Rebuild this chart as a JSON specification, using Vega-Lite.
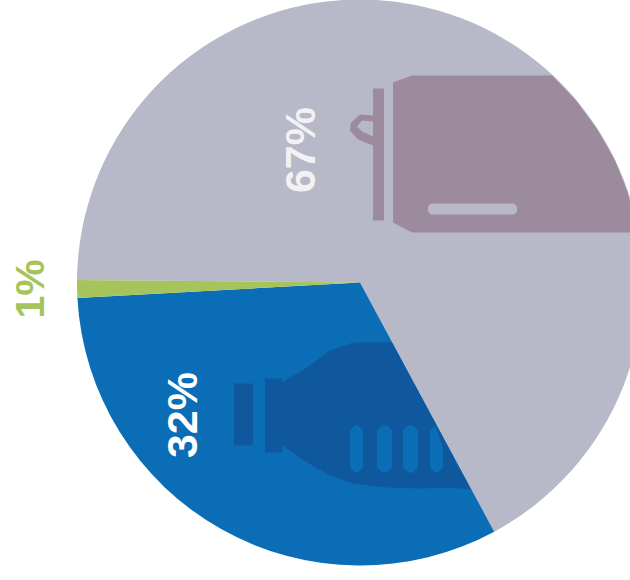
{
"$schema":"https://vega.github.io/schema/vega-lite/v6.json",
"width":720,"height":580,"padding":{"left":0,"top":-7.5,"right":0,"bottom":7.5},"autosize":"none","background":"white",
"view":{"stroke":null},
"data":{"values":[
{"segment":"A","share":67,"rank":1,"label":"67%"},
{"segment":"B","share":32,"rank":2,"label":"32%"},
{"segment":"C","share":1,"rank":3,"label":"1%"}]},
"layer":[
{"mark":{"type":"arc","outerRadius":283,"innerRadius":0},
 "encoding":{
  "theta":{"field":"share","type":"quantitative","stack":true,"scale":{"domain":[0,100],"range":[4.721,11.004]}},
  "order":{"field":"rank","type":"quantitative"},
  "color":{"field":"segment","type":"nominal","legend":null,"scale":{"domain":["A","B","C"],"range":["#b7b8c8","#0a6db6","#a5c45c"]}}}},
{"transform":[{"filter":"datum.segment==='A'"}],
 "mark":{"type":"point","filled":true,"opacity":1,"size":40000,"color":"#9b8b9d","strokeWidth":0,
 "shape":"M0.33,-2.00 L0.52,-2.07 L1.92,-2.07 L2.16,-1.82 L2.38,-1.52 L2.55,-1.22 L2.67,-0.92 L2.78,-0.50 L0.52,-0.50 L0.33,-0.60 Z M0.68,-0.76 L0.68,-0.71 L0.71,-0.68 L1.54,-0.68 L1.57,-0.71 L1.57,-0.76 L1.54,-0.79 L0.71,-0.79 Z M0.13,-1.94 L0.24,-1.94 L0.24,-0.62 L0.13,-0.62 Z M0.13,-1.67 L0,-1.68 L-0.09,-1.60 L-0.10,-1.52 L-0.02,-1.43 L0.13,-1.37 Z M0.13,-1.46 L0.02,-1.51 L-0.03,-1.56 L0.02,-1.62 L0.13,-1.61 Z"},
 "encoding":{}},
{"transform":[{"filter":"datum.segment==='B'"}],
 "mark":{"type":"point","filled":true,"opacity":1,"size":40000,"color":"#10589e","strokeWidth":0,
 "shape":"M-1.26,1.01 L-1.07,1.01 L-1.07,1.63 L-1.26,1.63 Z M-0.95,0.96 L-0.78,0.96 L-0.78,1.00 L-0.53,0.85 L-0.30,0.68 L-0.07,0.60 L0.32,0.60 L1.11,2.07 L0.90,2.05 L0.60,2.06 L0.27,2.05 L-0.07,2.01 L-0.30,1.93 L-0.53,1.80 L-0.78,1.63 L-0.78,1.70 L-0.95,1.70 Z M-0.10,1.48 L-0.10,1.85 L-0.05,1.90 L-0.02,1.90 L0.03,1.85 L0.03,1.48 L-0.02,1.43 L-0.05,1.43 Z M0.17,1.48 L0.17,1.85 L0.22,1.90 L0.27,1.90 L0.32,1.85 L0.32,1.48 L0.27,1.43 L0.22,1.43 Z M0.43,1.48 L0.43,1.85 L0.48,1.90 L0.53,1.90 L0.58,1.85 L0.58,1.48 L0.53,1.43 L0.48,1.43 Z M0.70,1.48 L0.70,1.85 L0.75,1.90 L0.78,1.90 L0.83,1.85 L0.83,1.65 L0.75,1.43 Z"},
 "encoding":{}},
{"transform":[{"filter":"datum.segment==='A'"}],
 "mark":{"type":"text","angle":270,"font":"Liberation Sans","fontWeight":"bold","fontSize":43,"align":"center","baseline":"middle","color":"#f2f1f3"},
 "encoding":{"theta":{"value":5.871},"radius":{"value":144.6},"text":{"field":"label"}}},
{"transform":[{"filter":"datum.segment==='B'"}],
 "mark":{"type":"text","angle":270,"font":"Liberation Sans","fontWeight":"bold","fontSize":43,"align":"center","baseline":"middle","color":"#ffffff"},
 "encoding":{"theta":{"value":4.067},"radius":{"value":220.3},"text":{"field":"label"}}},
{"transform":[{"filter":"datum.segment==='C'"}],
 "mark":{"type":"text","angle":270,"font":"Liberation Sans","fontWeight":"bold","fontSize":41,"align":"center","baseline":"middle","color":"#a5c45c"},
 "encoding":{"theta":{"value":4.693},"radius":{"value":328},"text":{"field":"label"}}}
]}
